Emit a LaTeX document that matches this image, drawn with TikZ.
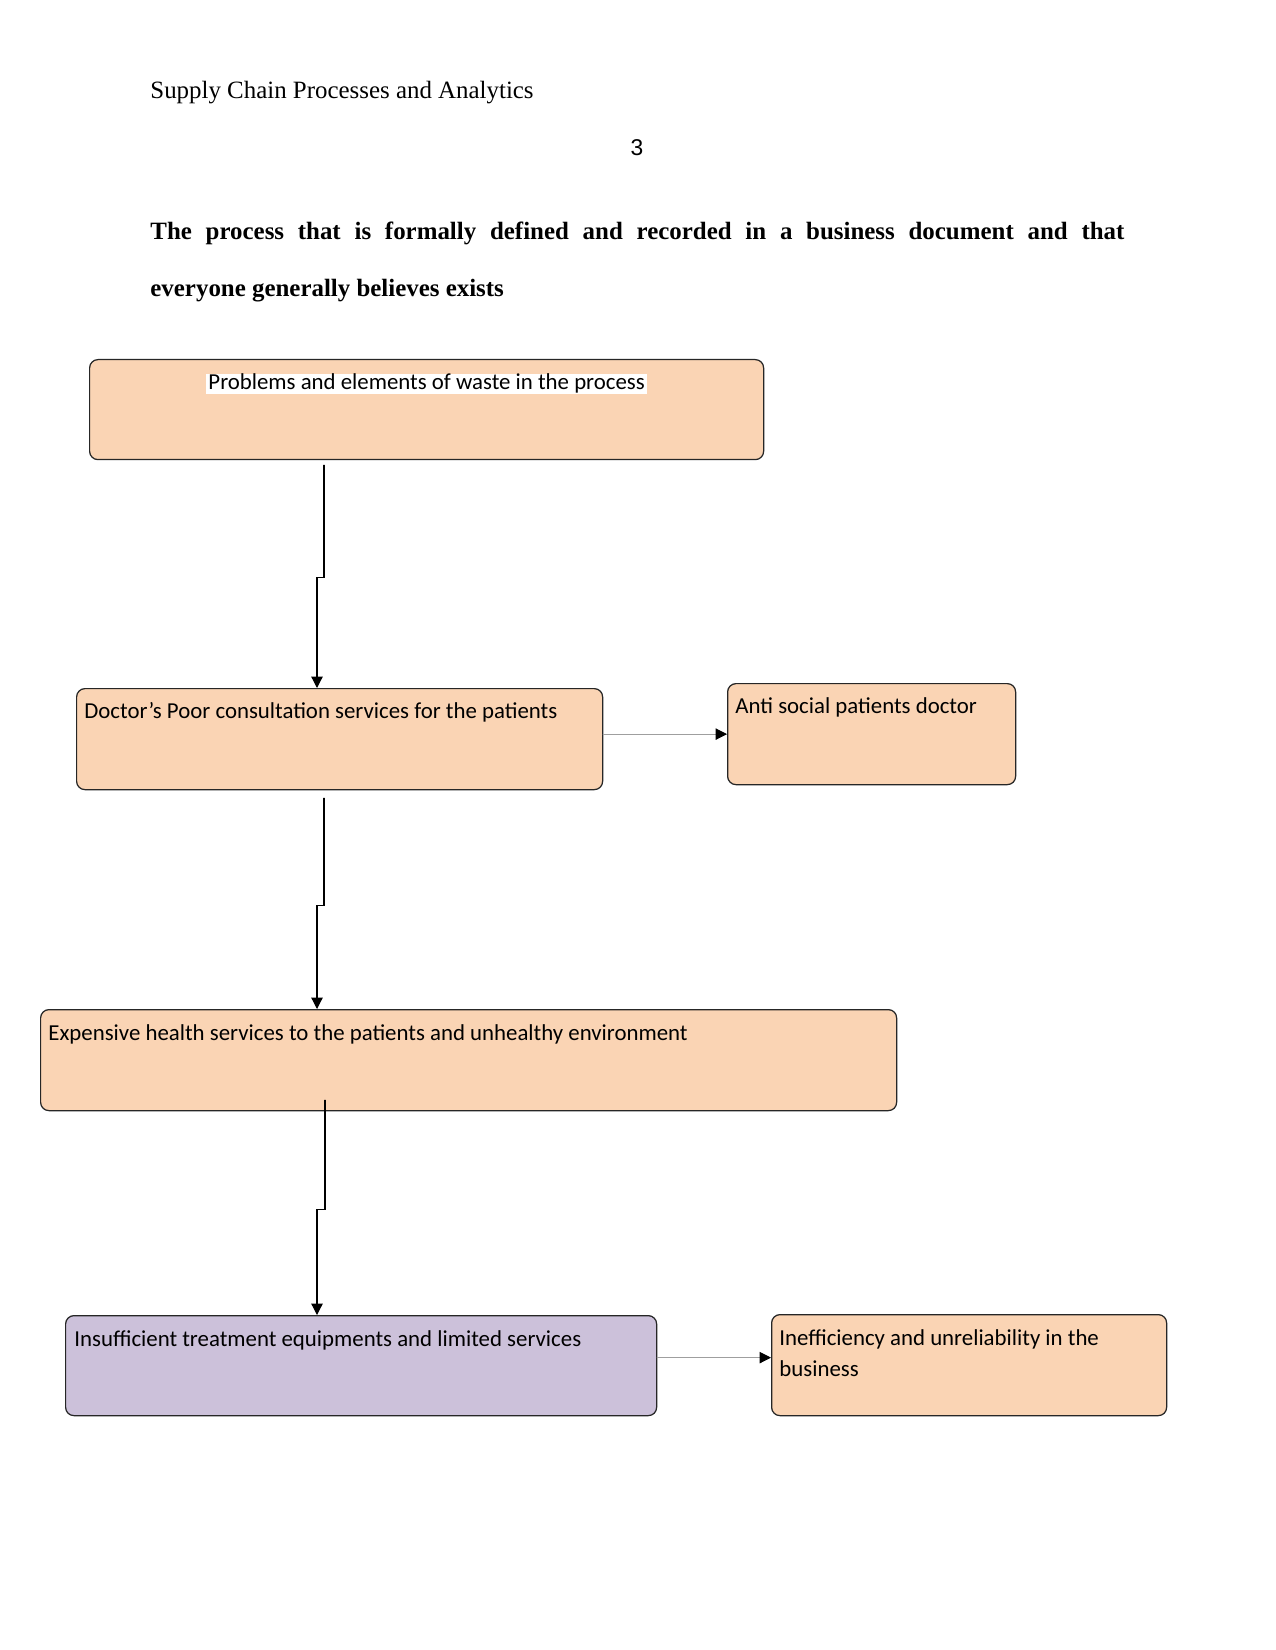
\documentclass[tikz,border=0pt]{standalone}
\usepackage{fontspec}
\setmainfont{Liberation Serif}
\newfontfamily\boxfont{Carlito}
\newfontfamily\pagefont{Liberation Sans}
\usepackage{tikz}
\usetikzlibrary{arrows.meta,calc}
\usepackage{xcolor}
\definecolor{peach}{RGB}{250,212,180}
\definecolor{lilac}{RGB}{204,193,218}
\newcommand\pxu{0.4818pt}

\begin{document}
\begin{tikzpicture}[x=\pxu,y=-\pxu,line cap=round,
  box/.style={draw=black!85,line width=0.6pt,rounded corners=4pt,fill=peach,anchor=north west,inner sep=0pt},
  boxtext/.style={font=\boxfont\fontsize{11}{15.4}\selectfont,inner sep=0pt,anchor=base west},
  conn/.style={-{Triangle[length=5.5pt,width=5.5pt]},line width=0.6pt},
  hconn/.style={-{Triangle[length=5.5pt,width=5.5pt,color=black]},line width=0.5pt,draw=gray!75}]
\useasboundingbox[fill=white] (0,0) rectangle (1275,1650);
\node[anchor=base west,inner sep=0pt,font=\fontsize{12}{14}\selectfont] (runhead) at (150,99) {Supply Chain Processes and Analytics};
\node[anchor=base,inner sep=0pt,font=\pagefont\fontsize{11}{13}\selectfont] (pagenum) at (637,156) {3};
\node[anchor=base west,inner sep=0pt,text width=974*\pxu,align=justify,font=\bfseries\fontsize{12}{27.4}\selectfont] (title) at (150,240)
  {The process that is formally defined and recorded in a business document and that\linebreak everyone generally believes exists};
\node[box,minimum width=674*\pxu,minimum height=100*\pxu] (prob) at (89,359) {};
\node[boxtext,anchor=base,fill=white,inner xsep=1pt] (prob-t) at ($(prob.north)+(0,31)$) {Problems and elements of waste in the process};
\node[box,minimum width=526*\pxu,minimum height=101*\pxu] (doc) at (76,688) {};
\node[boxtext] (doc-t) at ($(doc.north west)+(8,30)$) {Doctor’s Poor consultation services for the patients};
\node[box,minimum width=288*\pxu,minimum height=101*\pxu] (anti) at (727,683) {};
\node[boxtext] (anti-t) at ($(anti.north west)+(8,30)$) {Anti social patients doctor};
\node[box,minimum width=856*\pxu,minimum height=101*\pxu] (exp) at (40,1009) {};
\node[boxtext] (exp-t) at ($(exp.north west)+(8,31)$) {Expensive health services to the patients and unhealthy environment};
\node[box,fill=lilac,minimum width=591*\pxu,minimum height=100*\pxu] (insuf) at (65,1315) {};
\node[boxtext] (insuf-t) at ($(insuf.north west)+(9,31)$) {Insufficient treatment equipments and limited services};
\node[box,minimum width=395*\pxu,minimum height=101*\pxu] (ineff) at (771,1314) {};
\node[boxtext,text width=379*\pxu,align=flush left] (ineff-t) at ($(ineff.north west)+(8,31)$) {Inefficiency and unreliability in the\\business};
\draw[conn] ($(prob.south west)+(235,5)$) -- ++(0,112) -- ++(-7,0) coordinate (k1) -- (k1 |- doc.north);
\draw[conn] ($(doc.south west)+(248,8)$) -- ++(0,107) -- ++(-7,0) coordinate (k2) -- (k2 |- exp.north);
\draw[conn] ($(exp.south west)+(285,-11)$) -- ++(0,109) -- ++(-8,0) coordinate (k3) -- (k3 |- insuf.north);
\draw[hconn] (doc.east |- anti.west) -- (anti.west);
\draw[hconn] ($(insuf.east)+(0,-8)$) coordinate (h2) -- (h2 -| ineff.west);
\end{tikzpicture}
\end{document}
